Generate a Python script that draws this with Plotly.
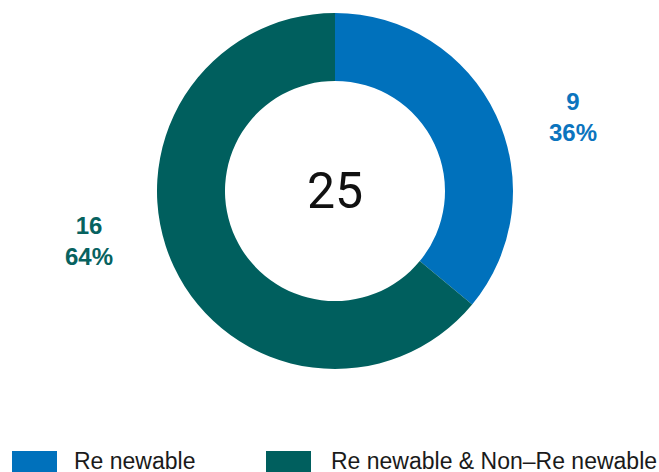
import plotly.graph_objects as go

# Energy source mix
categories = ["Re newable", "Re newable & Non\u2013Re newable"]
counts = [9, 16]
slice_colors = ["#0071BC", "#005F5E"]
label_colors = ["#0B74BE", "#07625F"]

W, H = 659, 472
total = sum(counts)
shares = [round(100 * c / total) for c in counts]

fig = go.Figure(
    go.Pie(
        labels=categories,
        values=counts,
        hole=0.618,
        sort=False,
        direction="clockwise",
        rotation=0,
        textinfo="none",
        hoverinfo="label+value+percent",
        marker=dict(colors=slice_colors, line=dict(width=0)),
        domain=dict(x=[157 / W, 513 / W], y=[(H - 369) / H, (H - 13) / H]),
        showlegend=False,
    )
)

# Value / share labels beside each slice
label_pos = [(573, 117), (89, 241)]
annotations = []
for (cx, cy), c, p, col in zip(label_pos, counts, shares, label_colors):
    annotations.append(dict(
        x=cx / W, y=1 - cy / H, xref="paper", yref="paper",
        text=f"<b>{c}</b><br><b>{p}%</b>", showarrow=False,
        font=dict(family="Liberation Sans, Arial, sans-serif", size=24, color=col),
        align="center", xanchor="center", yanchor="middle",
    ))

# Total in the centre of the ring
annotations.append(dict(
    x=335 / W, y=1 - 191 / H, xref="paper", yref="paper",
    text=str(total), showarrow=False,
    font=dict(family="Roboto, sans-serif", size=50, color="#111111"),
    xanchor="center", yanchor="middle",
))

# Legend row along the bottom edge
legend_items = [(12, 57, 72), (266, 311, 329)]
shapes = []
for (x0, x1, tx), name, col in zip(legend_items, categories, slice_colors):
    shapes.append(dict(
        type="rect", xref="paper", yref="paper",
        x0=x0 / W, x1=x1 / W, y0=1 - 480 / H, y1=1 - 451 / H,
        fillcolor=col, line=dict(width=0),
    ))
    annotations.append(dict(
        x=tx / W, y=1 - 446 / H, xref="paper", yref="paper",
        text=name, showarrow=False,
        font=dict(family="Liberation Sans, Arial, sans-serif", size=23, color="#1a1a1a"),
        xanchor="left", yanchor="top",
    ))

fig.update_layout(
    width=W, height=H,
    margin=dict(l=0, r=0, t=0, b=0),
    paper_bgcolor="white", plot_bgcolor="white",
    annotations=annotations, shapes=shapes,
)

fig.write_html("out.html")
